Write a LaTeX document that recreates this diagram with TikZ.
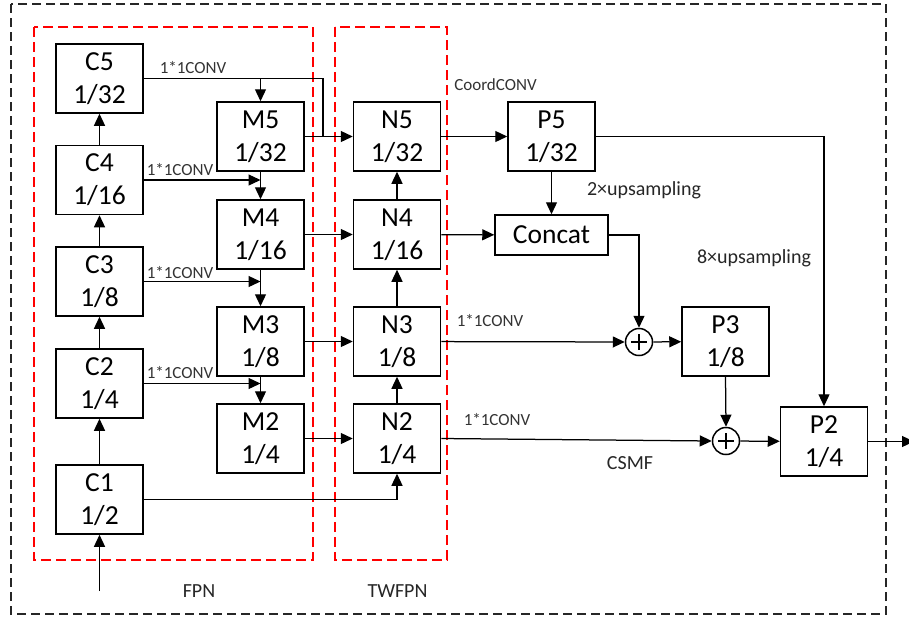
\documentclass[tikz,border=0pt]{standalone}
\usepackage{fontspec}
\setmainfont{Carlito}
\usetikzlibrary{arrows.meta,calc}
\begin{document}
\begin{tikzpicture}[x=1pt,y=-1pt,
  blk/.style={draw=black, line width=1.5pt, minimum width=87pt, minimum height=69pt, inner sep=0pt, align=center, font=\fontsize{27.5}{33}\selectfont},
  conn/.style={line width=1.25pt, -{Triangle[length=12pt,width=11pt]}},
  plainline/.style={line width=1.25pt},
  lbl/.style={font=\fontsize{17}{20}\selectfont, text=black!80, anchor=base, inner sep=0pt},
  biglbl/.style={font=\fontsize{20}{24}\selectfont, text=black!85, anchor=base, inner sep=0pt},
  sumc/.style={circle, draw, line width=1.5pt, minimum size=27pt, inner sep=0pt},
  plusbar/.style={line width=2.2pt},
  reddash/.style={draw=red, line width=1.5pt, dash pattern=on 10pt off 5pt},
  blackdash/.style={draw=black!85, line width=1.3pt, dash pattern=on 9pt off 5pt}
]
\useasboundingbox (0,0) rectangle (909,616);

% frames
\draw[blackdash] (11,4) rectangle (886,614);
\draw[reddash] (34,27) rectangle (313,560);
\draw[reddash] (335,27) rectangle (447,560);

% C column
\node[blk] (C5) at (99.5,78.5) {C5\\1/32};
\node[blk] (C4) at (99.5,180) {C4\\1/16};
\node[blk] (C3) at (99.5,281.5) {C3\\1/8};
\node[blk] (C2) at (99.5,383.5) {C2\\1/4};
\node[blk] (C1) at (99.5,499.5) {C1\\1/2};
% M column
\node[blk] (M5) at (260.5,136.5) {M5\\1/32};
\node[blk] (M4) at (260.5,234.5) {M4\\1/16};
\node[blk] (M3) at (260.5,341.5) {M3\\1/8};
\node[blk] (M2) at (260.5,438.5) {M2\\1/4};
% N column
\node[blk] (N5) at (397,136.5) {N5\\1/32};
\node[blk] (N4) at (397,234.5) {N4\\1/16};
\node[blk] (N3) at (397,341.5) {N3\\1/8};
\node[blk] (N2) at (397,438.5) {N2\\1/4};
% right part
\node[blk] (P5) at (551.5,136.5) {P5\\1/32};
\node[blk, minimum width=113pt, minimum height=40pt] (Concat) at (551.5,235) {Concat};
\node[blk] (P3) at (725.5,341.5) {P3\\1/8};
\node[blk] (P2) at (824,441.5) {P2\\1/4};
\node[sumc] (S1) at (639,342) {};
\node[sumc] (S2) at (726,441) {};
\draw[plusbar] ($(S1)+(-8,0)$) -- ($(S1)+(8,0)$);
\draw[plusbar] ($(S1)+(0,-8)$) -- ($(S1)+(0,8)$);
\draw[plusbar] ($(S2)+(-8,0)$) -- ($(S2)+(8,0)$);
\draw[plusbar] ($(S2)+(0,-8)$) -- ($(S2)+(0,8)$);

% coordinates
\coordinate (in) at (99.5,591);
\coordinate (c5a) at (323,78.5);
\coordinate (c5b) at (323,136.5);
\coordinate (m5in) at (260.5,78.5);
\coordinate (out) at (914,441.5);

% backbone
\draw[conn] (in) -- (C1.south);
\draw[conn] (C1) -- (C2);
\draw[conn] (C2) -- (C3);
\draw[conn] (C3) -- (C4);
\draw[conn] (C4) -- (C5);

% lateral
\draw[plainline] (C5.east) -- (c5a) -- (c5b);
\draw[conn] (m5in) -- (M5.north);
\draw[conn] (C4.east) -- (C4.east -| M5.south);
\draw[conn] (C3.east) -- (C3.east -| M4.south);
\draw[conn] (C2.east) -- (C2.east -| M3.south);
\draw[conn] (M5) -- (M4);
\draw[conn] (M4) -- (M3);
\draw[conn] (M3) -- (M2);

\draw[conn] (M5) -- (N5);
\draw[conn] (M4) -- (N4);
\draw[conn] (M3) -- (N3);
\draw[conn] (M2) -- (N2);
\draw[conn] (C1.east) -| (N2.south);
\draw[conn] (N2) -- (N3);
\draw[conn] (N3) -- (N4);
\draw[conn] (N4) -- (N5);

% head
\draw[conn] (N5) -- (P5);
\draw[conn] (N4) -- (Concat);
\draw[conn] (P5) -- (Concat);
\draw[conn] (Concat.east) -| (S1.north);
\draw[conn] (N3) -- (S1);
\draw[conn] (S1) -- (P3);
\draw[conn] (P3.south) -- (S2.north);
\draw[conn] (N2.east) -- (S2.west);
\draw[conn] (S2) -- (P2);
\draw[conn] (P5.east) -| (P2.north);
\draw[conn] (P2.east) -- (out);

% labels
\node[lbl] (l1) at (193,73) {1*1CONV};
\node[lbl] (l2) at (180,175) {1*1CONV};
\node[lbl] (l3) at (180,278) {1*1CONV};
\node[lbl] (l4) at (180,378) {1*1CONV};
\node[lbl] (l5) at (495.5,90) {CoordCONV};
\node[biglbl] (l6) at (644,195) {2×upsampling};
\node[biglbl] (l7) at (754,263) {8×upsampling};
\node[lbl] (l8) at (490,326) {1*1CONV};
\node[lbl] (l9) at (497,425) {1*1CONV};
\node[biglbl] (l10) at (630,469) {CSMF};
\node[biglbl] (l11) at (199,597) {FPN};
\node[biglbl] (l12) at (397.5,597) {TWFPN};
\end{tikzpicture}
\end{document}
